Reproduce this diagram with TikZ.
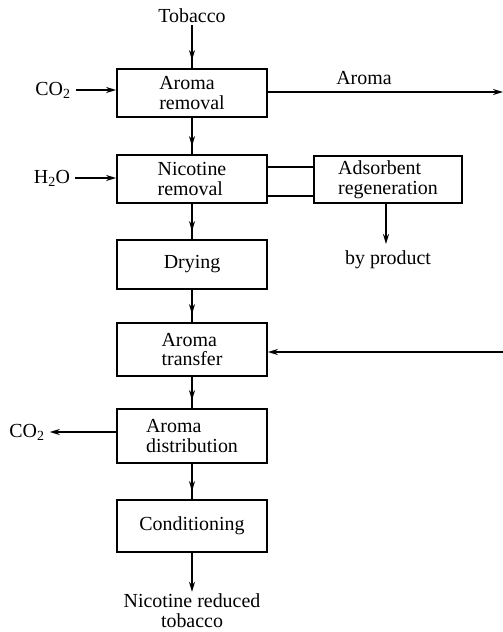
\documentclass[tikz,border=0pt]{standalone}
\usepackage{fontspec}
\setmainfont{Liberation Serif}
\usetikzlibrary{arrows.meta,decorations.markings}
\begin{document}
\begin{tikzpicture}[x=1bp,y=-1bp,
  every node/.style={font=\fontsize{20}{20}\selectfont, inner sep=2bp},
  proc/.style={draw, line width=1.7bp, minimum width=150bp, align=left},
  flow/.style={line width=1.7bp, -{Stealth[length=10bp,width=6bp]}},
  midflow/.style={line width=1.7bp, postaction={decorate},
    decoration={markings, mark=at position -8bp with {\arrow{Stealth[length=10bp,width=6bp]}}}},
  plain/.style={line width=1.7bp},
  lbl/.style={align=center}]
\useasboundingbox (0,0) rectangle (503,632);

\node[proc, minimum height=48bp] (ar) at (192,93) {Aroma\\removal};
\node[proc, minimum height=48bp] (nr) at (192,179) {Nicotine\\removal};
\node[proc, minimum height=49bp] (dr) at (192,264.5) {Drying};
\node[proc, minimum height=53bp] (at) at (192,349.5) {Aroma\\transfer};
\node[proc, minimum height=54bp] (ad) at (192,436) {Aroma\\distribution};
\node[proc, minimum height=52bp] (co) at (192,526) {Conditioning};
\node[proc, minimum width=148bp, minimum height=47bp] (ag) at (388,179.5) {Adsorbent\\regeneration};

\node (tob) at (192,16) {Tobacco};
\node[lbl] (out) at (192,611) {Nicotine reduced\\tobacco};
\node (co2in) at (53,90) {CO\textsubscript{2}};
\node (h2o) at (52,178) {H\textsubscript{2}O};
\node (co2out) at (27,432) {CO\textsubscript{2}};
\node (aroma) at (364,78) {Aroma};
\node (byp) at (388,260) {by product};

\coordinate (aromaE) at (503,92);
\coordinate (retE) at (503,352);
\coordinate (bypE) at (386,244);

% main vertical flow
\draw[midflow] (tob.south) -- (ar.north);
\draw[midflow] (ar) -- (nr);
\draw[midflow] (nr) -- (dr);
\draw[midflow] (dr) -- (at);
\draw[midflow] (at) -- (ad);
\draw[midflow] (ad) -- (co);
\draw[flow] (co.south) -- (out.north);

% side inputs/outputs
\draw[flow] (co2in.east) ++(3,0) -- (ar.west |- co2in.east);
\draw[flow] (h2o.east) ++(3,0) -- (nr.west |- h2o.east);
\draw[flow] (ad.west |- co2out.east) -- ([xshift=3bp]co2out.east);
\draw[flow] (ar.east |- aromaE) -- (aromaE);
\draw[flow] (retE) -- (at.east |- retE);

% adsorbent regeneration loop
\draw[plain] (nr.east |- 0,167) -- (ag.west |- 0,167);
\draw[plain] (nr.east |- 0,196) -- (ag.west |- 0,196);
\draw[flow] (ag.south -| bypE) -- (bypE);
\end{tikzpicture}
\end{document}
